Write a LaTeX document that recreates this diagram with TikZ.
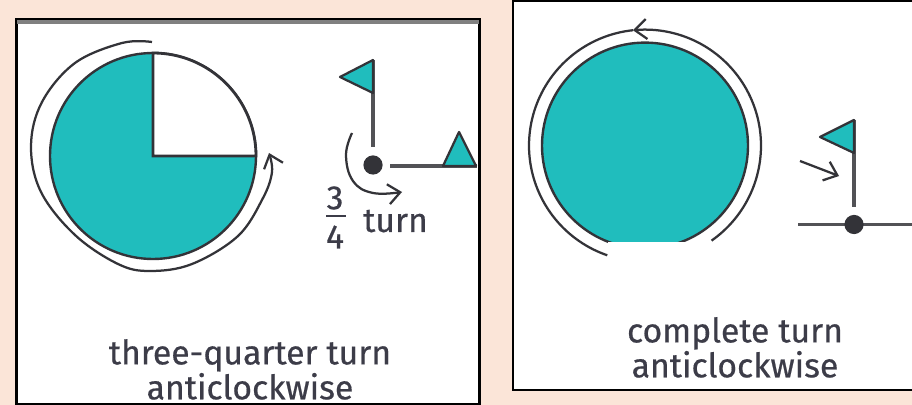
\documentclass[tikz,border=0pt]{standalone}
\usepackage{fontspec}
\setmainfont{Fira Sans}[Ligatures=NoCommon,RawFeature={embolden=.5}]
\usetikzlibrary{arrows.meta}
\definecolor{paper}{HTML}{FBE5D8}
\definecolor{teal}{HTML}{20BDBD}
\definecolor{ink}{HTML}{333338}
\definecolor{wording}{HTML}{3C3C48}
\tikzset{>={Straight Barb[length=3mm,width=5mm]},line width=.8pt,
  panel/.style={draw=black,fill=white,line width=1.5pt},
  disc/.style={draw=ink,fill=teal,line width=1.7pt},
  sweep/.style={draw=ink,line width=1.6pt},
  pole/.style={draw=ink!85,line width=2.2pt},
  pennant/.style={draw=ink,fill=teal,line width=1.6pt,line join=round},
  pivot/.style={circle,fill=ink,inner sep=0pt,minimum size=.48cm},
  wordsbig/.style={text=wording,font=\fontsize{24}{22}\selectfont,anchor=base,inner sep=0pt},
  caption/.style={wordsbig,align=center,anchor=south},
  numeral/.style={text=wording,font=\fontsize{24}{24}\selectfont,inner sep=0pt}}
\begin{document}
\begin{tikzpicture}[x=.025cm,y=-.025cm]
\path[use as bounding box] (0,0) rectangle (912,405);
\clip (0,0) rectangle (912,405);
\fill[paper] (0,0) rectangle (912,405);
% left panel
\draw[panel] (16.5,19) rectangle (479.5,404);
\draw[draw=gray,line width=2.5pt] (17,22) -- (479,22);
\fill[disc] (153,156) circle (103);
\filldraw[draw=ink,fill=white,line width=2pt] (153,156) -- (153,53) arc[start angle=-90,end angle=0,radius=103] -- cycle;
\draw[sweep,->] plot[smooth,tension=.6] coordinates {(152,42) (122,43) (75,63) (42,102) (31,146) (41,192) (75,235) (118,264) (150,271) (192,264) (238,236) (263,198) (272,172) (269,153)};
\draw[pole] (373,60) -- (373,147);
\draw[pennant] (373,60) -- (340,77) -- (373,93) -- cycle;
\node[pivot] (pivotA) at (373,165) {};
\draw[pole] (390,166) -- (477,166);
\draw[pennant] (443,166) -- (459,132) -- (476,166) -- cycle;
\draw[sweep,->] plot[smooth,tension=.7] coordinates {(352,133) (346,155) (353,181) (373,193) (402,192)};
\node[numeral] (threeA) at (335,198) {3};
\draw[wording,line width=1.6pt] (326,216) -- (346,216);
\node[numeral] (fourA) at (335,237) {4};
\node[wordsbig] (turnA) at (395.5,232) {turn};
\node[caption] (captionA) at (250,400) {three-quarter turn\\anticlockwise};
% right panel
\draw[panel] (513,1) rectangle (920,390);
\fill[disc] (645,145.6) circle (103);
\draw[sweep,->] plot[domain=-55:96,samples=80] ({645+116*cos(\x)},{145.6-116*sin(\x)});
\draw[sweep] plot[domain=96:251,samples=80] ({645+116*cos(\x)},{145.6-116*sin(\x)});
\fill[white] (608,242) rectangle (714,264);
\draw[pole] (854,120) -- (854,207);
\draw[pennant] (854,120) -- (820,137) -- (854,153) -- cycle;
\draw[pole] (798,224.5) -- (912,224.5);
\node[pivot] (pivotB) at (854,224.5) {};
\draw[sweep,->] (800,161) -- (839,176);
\node[caption] (captionC) at (735,378) {complete turn\\anticlockwise};
\end{tikzpicture}
\end{document}
